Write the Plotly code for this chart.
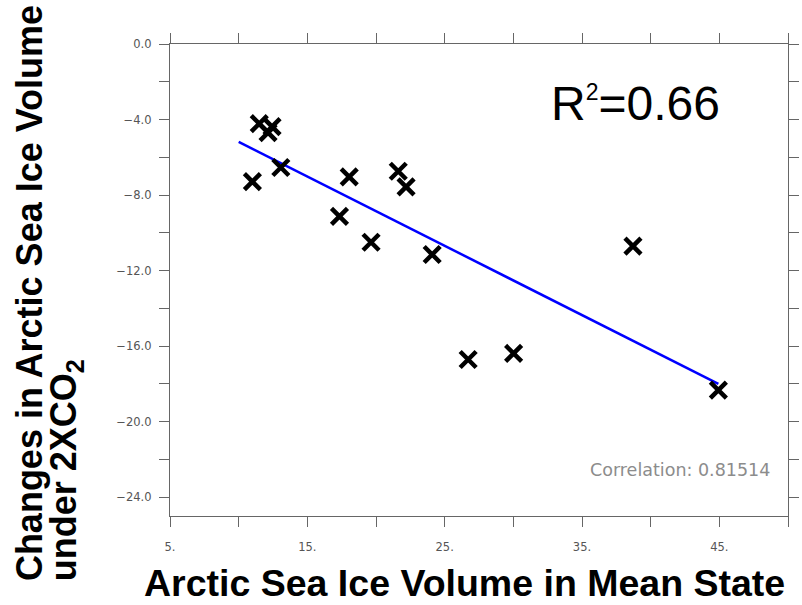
import numpy as np
import plotly.graph_objects as go

# Arctic sea ice volume in the mean state vs. its change under 2xCO2
mean_volume = [11.0, 11.5, 12.14, 12.43, 13.07, 17.34, 18.05, 19.64,
               21.62, 22.19, 24.09, 26.71, 30.02, 38.71, 44.93]
volume_change = [-7.29, -4.22, -4.69, -4.38, -6.54, -9.13, -7.04, -10.5,
                 -6.74, -7.57, -11.15, -16.71, -16.39, -10.71, -18.33]

x_tick_vals = [5, 15, 25, 35, 45]
x_tick_text = ["5.", "15.", "25.", "35.", "45."]
y_tick_vals = [0, -4, -8, -12, -16, -20, -24]
y_tick_text = ["0.0", "\u22124.0", "\u22128.0", "\u221212.0", "\u221216.0",
               "\u221220.0", "\u221224.0"]

r_squared_text = "R<sup><span style='font-size:23px'>2</span></sup>=0.66"
correlation_text = "Correlation: 0.81514"

# least-squares fit, drawn from x = 10 to the largest sample
slope, intercept = np.polyfit(mean_volume, volume_change, 1)
fit_x = np.array([10.0, max(mean_volume)])
fit_y = slope * fit_x + intercept

fig = go.Figure()
fig.add_trace(go.Scatter(
    x=fit_x, y=fit_y, mode="lines",
    line=dict(color="#0000ff", width=2.5), showlegend=False, hoverinfo="skip",
))
fig.add_trace(go.Scatter(
    x=mean_volume, y=volume_change, mode="markers",
    marker=dict(symbol="x-thin", size=16, color="black",
                line=dict(color="black", width=4.5)),
    showlegend=False,
))

axis_common = dict(
    showline=True, linecolor="#666666", linewidth=1.3,
    mirror="allticks", ticks="outside", ticklen=10, tickwidth=1,
    tickcolor="#666666", showgrid=False, zeroline=False,
    tickfont=dict(family="DejaVu Sans", size=11.5, color="#555555"),
)

fig.update_xaxes(
    range=[5, 50], tickmode="array", tickvals=x_tick_vals, ticktext=x_tick_text,
    minor=dict(tick0=5, dtick=5, ticks="outside", ticklen=10,
               tickcolor="#666666", tickwidth=1),
    ticklabelstandoff=10, **axis_common,
)
fig.update_yaxes(
    range=[-25, 0], tickmode="array", tickvals=y_tick_vals, ticktext=y_tick_text,
    minor=dict(tick0=0, dtick=2, ticks="outside", ticklen=10,
               tickcolor="#666666", tickwidth=1),
    ticklabelstandoff=5, **axis_common,
)

annotations = [
    dict(text=r_squared_text, x=0.614, y=0.874, xref="paper", yref="paper",
         xanchor="left", yanchor="middle", showarrow=False,
         font=dict(family="Liberation Sans, Arial", size=48, color="black")),
    dict(text=correlation_text, x=0.826, y=0.0975, xref="paper", yref="paper",
         xanchor="center", yanchor="middle", showarrow=False,
         font=dict(family="DejaVu Sans", size=17.5, color="#8c8c8c")),
    dict(text="<b>Arctic Sea Ice Volume in Mean State</b>", x=0.477, y=-0.19,
         xref="paper", yref="paper", xanchor="center", yanchor="bottom",
         showarrow=False,
         font=dict(family="Liberation Sans, Arial", size=37.5, color="black")),
    dict(text="<b>Changes in Arctic Sea Ice Volume</b>", x=-0.228, y=-0.142,
         xref="paper", yref="paper", xanchor="center", yanchor="bottom",
         textangle=-90, showarrow=False,
         font=dict(family="Liberation Sans, Arial", size=36, color="black")),
    dict(text="<b>under 2XCO<sub>2</sub></b>", x=-0.168, y=-0.142,
         xref="paper", yref="paper", xanchor="center", yanchor="bottom",
         textangle=-90, showarrow=False,
         font=dict(family="Liberation Sans, Arial", size=36, color="black")),
]

fig.update_layout(
    width=802, height=605,
    margin=dict(l=170, r=3, t=44, b=89),
    paper_bgcolor="white", plot_bgcolor="white",
    annotations=annotations,
)

fig.write_html("out.html")
